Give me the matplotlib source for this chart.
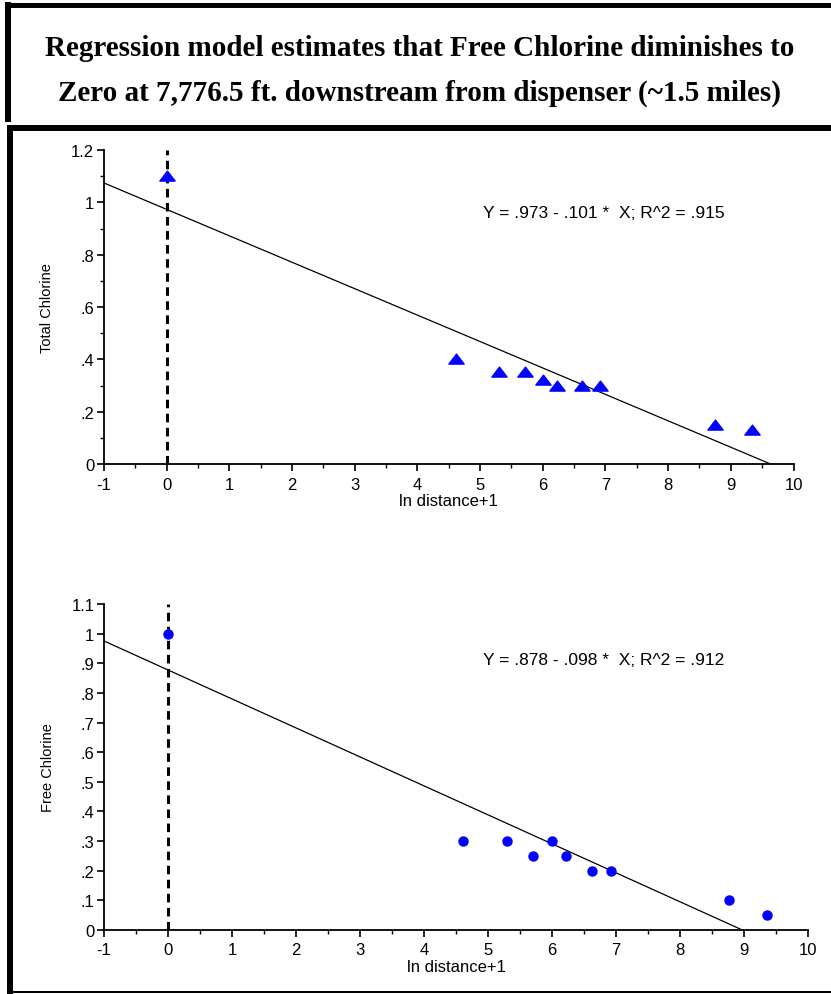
import numpy as np
import matplotlib
matplotlib.use('Agg')
import matplotlib.pyplot as plt
from matplotlib.path import Path
from matplotlib.lines import Line2D

# data (x = ln distance+1)
x_total = [0, 4.61, 5.30, 5.71, 6.00, 6.22, 6.63, 6.91, 8.74, 9.33]
y_total = [1.10, 0.40, 0.35, 0.35, 0.32, 0.30, 0.30, 0.30, 0.15, 0.13]

x_free = [0, 4.61, 5.30, 5.70, 5.99, 6.22, 6.62, 6.92, 8.76, 9.36]
y_free = [1.00, 0.30, 0.30, 0.25, 0.30, 0.25, 0.20, 0.20, 0.10, 0.05]

# regression coefficients (intercept, slope) as printed on the chart
fit_total = (0.973, -0.101)
fit_free = (0.878, -0.098)
eq_total = "Y = .973 - .101 *  X; R^2 = .915"
eq_free = "Y = .878 - .098 *  X; R^2 = .912"

x_ticks = list(range(-1, 11))
y_ticks_total = [0, 0.2, 0.4, 0.6, 0.8, 1.0, 1.2]
y_labels_total = ['0', '.2', '.4', '.6', '.8', '1', '1.2']
y_ticks_free = [0, 0.1, 0.2, 0.3, 0.4, 0.5, 0.6, 0.7, 0.8, 0.9, 1.0, 1.1]
y_labels_free = ['0', '.1', '.2', '.3', '.4', '.5', '.6', '.7', '.8', '.9', '1', '1.1']

title = ("Regression model estimates that Free Chlorine diminishes to\n"
         "Zero at 7,776.5 ft. downstream from dispenser (~1.5 miles)")

plt.rcParams['font.family'] = 'Liberation Sans'
plt.rcParams['axes.unicode_minus'] = False

W, H = 831, 995
fig = plt.figure(figsize=(W / 100, H / 100), dpi=100)

def fx(px):
    return px / W

def fy(py):
    return 1 - py / H

# frame lines around header and chart area
def bar(x0, y0, x1, y1, lw):
    fig.add_artist(Line2D([fx(x0), fx(x1)], [fy(y0), fy(y1)], color='black',
                          lw=lw * 0.72, solid_capstyle='butt', transform=fig.transFigure))

bar(5, 5.5, W, 5.5, 5)        # header top
bar(8, 3, 8, 123, 6)          # header left
bar(7, 128.5, W, 128.5, 6)    # chart box top
bar(10, 126, 10, 995, 6)      # chart box left
bar(10, 993, W, 993, 2)       # chart box bottom

fig.text(0.505, fy(71), title, ha='center', va='center', fontsize=21,
         fontweight='bold', family='Liberation Serif', linespacing=1.8)

# flattened triangle marker like the original
tri = Path([(-1, -0.6), (1, -0.6), (0, 0.7), (-1, -0.6)],
           [Path.MOVETO, Path.LINETO, Path.LINETO, Path.CLOSEPOLY])

def make_axes(rect, xs, ys, fit, eq, eq_pos, yt, ylab, ymax, ylabel, marker, ms):
    ax = fig.add_axes(rect)
    ax.set_xlim(-1, 10)
    ax.set_ylim(0, ymax)
    for s in ['top', 'right']:
        ax.spines[s].set_visible(False)
    for s in ['left', 'bottom']:
        ax.spines[s].set_linewidth(1.3)
    ax.set_xticks(x_ticks)
    ax.set_xticks(np.arange(-0.5, 10, 1.0), minor=True)
    ax.set_yticks(yt)
    ax.set_yticklabels(ylab)
    if ymax > 1.15:
        ax.set_yticks(np.arange(0.1, 1.2, 0.2), minor=True)
    ax.tick_params(which='major', length=5, width=1.2, labelsize=12, pad=2)
    ax.tick_params(axis='x', which='major', pad=4)
    ax.tick_params(which='minor', length=3, width=1.0)
    ax.plot([0, 0], [0, ymax], color='black', lw=2.2, ls=(0, (2.8, 1.8)), zorder=2)
    b0, b1 = fit
    xe = -b0 / b1
    ax.plot([-1, xe], [b0 - b1, 0], color='black', lw=0.9, zorder=3)
    ax.plot(xs, ys, ls='none', marker=marker, ms=ms, color='#0000ff',
            mec='#0000ff', zorder=4, clip_on=False)
    ax.text(eq_pos[0], eq_pos[1], eq, transform=ax.transAxes, fontsize=12.5,
            va='center', ha='left')
    ax.set_xlabel('ln distance+1', fontsize=12, labelpad=1)
    ax.set_ylabel(ylabel, fontsize=10.5, labelpad=12)
    return ax

ax1 = make_axes([fx(104), fy(465), fx(793.5) - fx(104), fy(151) - fy(465)],
                x_total, y_total, fit_total, eq_total, (0.55, 0.80),
                y_ticks_total, y_labels_total, 1.2, 'Total Chlorine', tri, 11)

ax2 = make_axes([fx(104), fy(930.7), fx(808.3) - fx(104), fy(605.3) - fy(930.7)],
                x_free, y_free, fit_free, eq_free, (0.538, 0.83),
                y_ticks_free, y_labels_free, 1.1, 'Free Chlorine', 'o', 6.5)

fig.savefig('out.png', dpi=100)
